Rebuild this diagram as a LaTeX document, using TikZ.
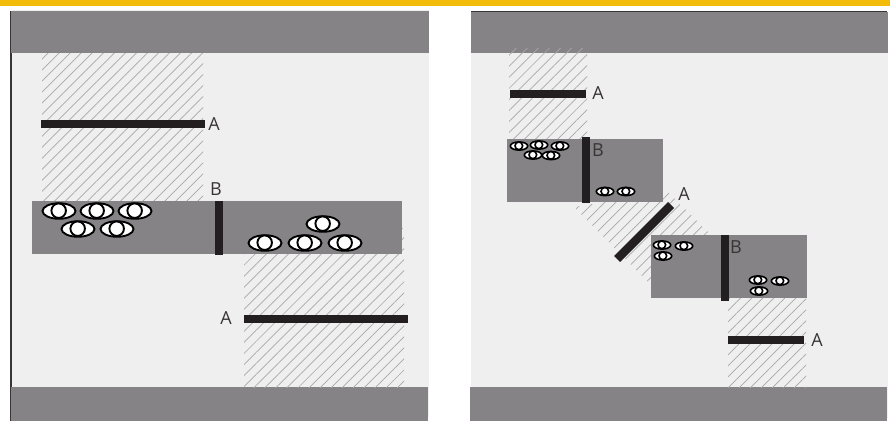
\documentclass[tikz,border=0pt]{standalone}
\usepackage{fontspec}
\setmainfont{Open Sans}
\usetikzlibrary{patterns.meta}
\definecolor{barGold}{HTML}{F4BC0A}
\definecolor{panelBg}{HTML}{EFEFEF}
\definecolor{bandGrey}{HTML}{858385}
\definecolor{barBlack}{HTML}{231F20}
\definecolor{hatchGrey}{HTML}{A9A8A9}
% one eye: centre x, centre y, half width, line width
\newcommand{\eyemark}[4]{%
    \draw [draw=black, fill=white, line width=#4] (#1,#2) ellipse [x radius=#3, y radius=#3*0.47];
    \draw [draw=black, fill=white, line width=#4] (#1-#3*0.02,#2-#3*0.02) circle [radius=#3*0.44];
}

\begin{document}
\begin{tikzpicture}[
    x=1pt, y=-1pt,
    band/.style = {fill=bandGrey, draw=none},
    panel/.style = {fill=panelBg, draw=none},
    hatch/.style = {pattern={Lines[angle=45, distance=7.8pt, line width=0.7pt]}, pattern color=hatchGrey, draw=none},
    barA/.style = {fill=barBlack, draw=none},
    letter/.style = {font=\fontsize{18}{20}\selectfont, text=barBlack!90, inner sep=0pt}
]
    \useasboundingbox (0,0) rectangle (890,421);

    % Top strip
    \fill [barGold] (0,0) rectangle (890,6.3);

    % Left panel
    \fill [panel] (12,10) rectangle (429,417);
    \fill [barBlack!90] (10,11) rectangle (12,421);
    \fill [band] (11,11) rectangle (429,53);
    \fill [band] (11,387) rectangle (428,421);
    \fill [hatch] (42,53) rectangle (203,201);
    \fill [hatch] (244,228) rectangle (404,387);
    \fill [band] (32,201) rectangle (402,254);
    \fill [barA] (41,120) rectangle (205,128);
    \fill [barA] (215,201) rectangle (223,255);
    \fill [barA] (244,315) rectangle (408,323);

    % Left crowd
    \foreach \x/\y in {59/211, 97/211, 135/211, 78/229, 117/229, 323/224, 265/243, 305/243, 345/243}
        \eyemark{\x}{\y}{16.5}{1.9pt};

    % Right panel
    \fill [panel] (471,12) rectangle (888,418);
    \fill [barBlack!90] (471,11) rectangle (887,12);
    \fill [band] (471,12) rectangle (888,53);
    \fill [band] (470,387) rectangle (887,421);
    \fill [hatch] (509,48) rectangle (587,139);
    \fill [hatch] (574,207) -- (668,192) -- (708,232) -- (650,284) -- cycle;
    \fill [hatch] (728,298) rectangle (806,387);
    \fill [band] (507,139) rectangle (663,202);
    \fill [band] (651,235) rectangle (807,298);
    \fill [barA] (510,90) rectangle (586,98);
    \fill [barA] (582,137) rectangle (590,203);
    \fill [barA] (668,202) -- (674,208) -- (620,262) -- (614,256) -- cycle;
    \fill [barA] (721,235) rectangle (729,301);
    \fill [barA] (728,336) rectangle (804,344);

    % Right crowd
    \foreach \x/\y in {519/146, 539/145, 560/146, 533/155, 551/155.5, 605/191.5, 626/191.5, 662/245, 684/246, 663/256, 758/280, 780/281, 759/291}
        \eyemark{\x}{\y}{8.7}{1.6pt};

    % Letters
    \node (a1) [letter] at (214,124.5) {A};
    \node (b1) [letter] at (216,189) {B};
    \node (a2) [letter] at (226,318) {A};
    \node (a3) [letter] at (598,93.5) {A};
    \node (b2) [letter] at (598,150) {B};
    \node (a4) [letter] at (684,194.5) {A};
    \node (b3) [letter] at (736,247) {B};
    \node (a5) [letter] at (817,340) {A};
\end{tikzpicture}
\end{document}
